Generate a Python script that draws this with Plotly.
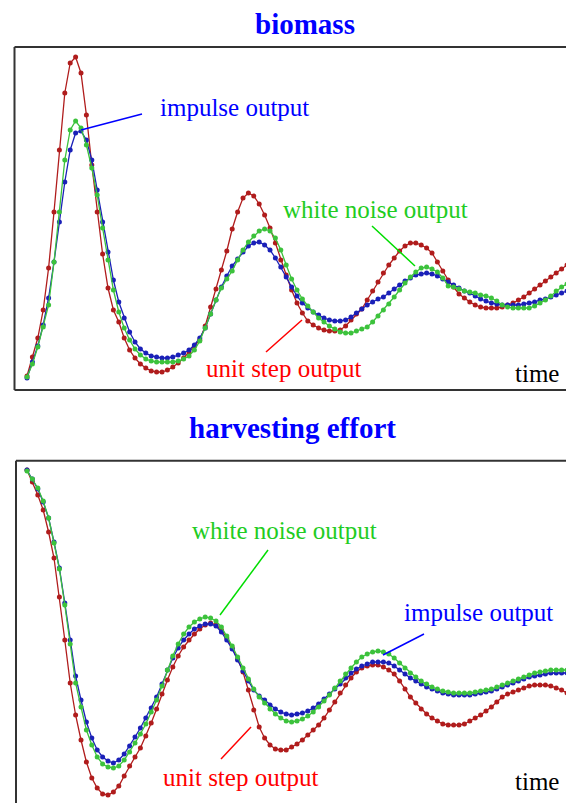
import plotly.graph_objects as go

# time index (equally spaced samples)
t = list(range(101))

# ---- biomass panel (arbitrary units) ----
biomass_step = [14, 33, 52, 80, 122, 178, 240, 297, 327, 333,
                317, 275, 225, 178, 136, 102, 80, 68, 52, 40,
                32, 26, 22, 19, 18, 18, 20, 23, 27, 32,
                38, 44, 50, 64, 83, 101, 120, 139, 161, 178,
                192, 197, 194, 186, 175, 162, 147, 130, 115, 100,
                87, 77, 69, 65, 62, 60, 59, 59, 60, 64,
                70, 76, 81, 90, 99, 108, 117, 125, 132, 139,
                144, 147, 147, 145, 142, 137, 128, 119, 110, 103,
                96, 92, 88, 85, 83, 82, 82, 82, 83, 85,
                87, 90, 93, 97, 101, 105, 109, 113, 117, 121,
                125]
biomass_impulse = [12, 28, 44, 65, 92, 128, 168, 208, 240, 257,
                   259, 250, 230, 200, 168, 138, 110, 88, 72, 58,
                   48, 41, 37, 34, 33, 32, 32, 33, 35, 37,
                   40, 45, 52, 62, 76, 90, 103, 114, 124, 131,
                   138, 144, 147, 148, 145, 140, 132, 123, 113, 103,
                   94, 87, 82, 78, 75, 72, 70, 69, 69, 70,
                   73, 77, 81, 85, 88, 91, 93, 97, 101, 105,
                   109, 112, 115, 116, 117, 116, 114, 111, 108, 105,
                   102, 99, 97, 94, 91, 89, 87, 86, 85, 85,
                   85, 85, 86, 87, 88, 90, 91, 93, 95, 97,
                   99]
biomass_noise = [13, 26, 43, 63, 85, 128, 178, 230, 260, 269,
                 262, 245, 222, 195, 162, 130, 100, 78, 62, 50,
                 41, 35, 31, 29, 28, 28, 28, 28, 29, 31,
                 34, 40, 49, 62, 76, 90, 102, 111, 119, 130,
                 140, 148, 154, 159, 161, 159, 152, 140, 125, 111,
                 100, 91, 84, 78, 72, 68, 64, 61, 58, 57,
                 57, 59, 61, 63, 68, 74, 80, 86, 93, 100,
                 107, 113, 118, 122, 123, 121, 118, 112, 104, 103,
                 101, 99, 98, 97, 95, 94, 92, 89, 85, 83,
                 82, 82, 82, 82, 84, 87, 90, 94, 99, 103,
                 106]

# ---- harvesting effort panel ----
effort_step = [333, 321, 308, 293, 271, 245, 206, 163, 120, 88,
               63, 41, 25, 15, 9, 8, 11, 17, 27, 37,
               46, 55, 67, 80, 94, 109, 123, 136, 147, 156,
               163, 169, 174, 178, 180, 178, 173, 165, 155, 144,
               131, 113, 93, 76, 65, 58, 54, 53, 53, 56,
               59, 63, 68, 73, 78, 85, 93, 101, 110, 118,
               125, 131, 135, 137, 138, 138, 136, 133, 129, 122,
               114, 106, 100, 94, 89, 85, 82, 79, 78, 78,
               78, 79, 82, 85, 88, 92, 96, 101, 106, 109,
               111, 113, 115, 117, 118, 118, 118, 117, 115, 113,
               110]
effort_impulse = [333, 324, 314, 301, 285, 261, 235, 200, 163, 127,
                  103, 81, 65, 53, 46, 42, 40, 43, 49, 57,
                  66, 75, 85, 95, 106, 119, 133, 145, 155, 163,
                  169, 174, 177, 179, 179, 177, 171, 163, 154, 143,
                  132, 122, 113, 107, 103, 98, 94, 91, 89, 88,
                  89, 90, 92, 95, 99, 104, 109, 114, 119, 125,
                  130, 134, 137, 139, 141, 141, 141, 140, 137, 133,
                  129, 125, 122, 119, 116, 114, 112, 110, 109, 108,
                  108, 108, 108, 109, 110, 111, 112, 114, 116, 118,
                  120, 122, 124, 126, 127, 128, 129, 130, 130, 130,
                  130]
effort_noise = [332, 324, 315, 302, 285, 260, 234, 198, 159, 120,
                96, 73, 58, 46, 39, 36, 35, 37, 43, 51,
                60, 69, 79, 91, 103, 117, 133, 147, 159, 169,
                176, 181, 184, 186, 185, 182, 176, 167, 157, 146,
                135, 124, 114, 106, 100, 94, 89, 85, 82, 81,
                82, 84, 87, 91, 96, 102, 108, 115, 122, 129,
                135, 141, 146, 149, 151, 152, 151, 149, 145, 140,
                135, 130, 126, 122, 119, 116, 114, 112, 111, 110,
                110, 110, 110, 111, 112, 113, 114, 116, 118, 120,
                122, 124, 126, 128, 130, 131, 132, 133, 133, 133,
                133]

W, H = 566, 803
def X(px):
    return px / W
def Y(py):
    return (H - py) / H

RED = "#B01C1C"
BLUE = "#1A20B8"
GREEN = "#3CC23C"
FONT = "Liberation Serif"

fig = go.Figure()
for vals, col in [(biomass_step, RED), (biomass_impulse, BLUE), (biomass_noise, GREEN)]:
    fig.add_trace(go.Scatter(x=t, y=vals, mode="lines+markers",
                             line=dict(color=col, width=1.3),
                             marker=dict(size=5, color=col),
                             xaxis="x", yaxis="y", showlegend=False, hoverinfo="skip"))
for vals, col in [(effort_step, RED), (effort_impulse, BLUE), (effort_noise, GREEN)]:
    fig.add_trace(go.Scatter(x=t, y=vals, mode="lines+markers",
                             line=dict(color=col, width=1.3),
                             marker=dict(size=5, color=col),
                             xaxis="x2", yaxis="y2", showlegend=False, hoverinfo="skip"))

xr = [-5, W / 5.4 - 5]
fig.update_layout(
    width=W, height=H, margin=dict(l=0, r=0, t=0, b=0),
    paper_bgcolor="white", plot_bgcolor="white",
    xaxis=dict(domain=[0, 1], range=xr, visible=False),
    yaxis=dict(domain=[Y(390), Y(47)], range=[0, 343], visible=False),
    xaxis2=dict(domain=[0, 1], range=xr, visible=False, anchor="y2"),
    yaxis2=dict(domain=[0, Y(460.7)], range=[0, 342.3], visible=False, anchor="x2"),
)

BOX = "#333333"
shapes = [
    # biomass frame (left, top, bottom)
    dict(type="line", xref="paper", yref="paper", x0=X(14.5), x1=X(14.5), y0=Y(390), y1=Y(47)),
    dict(type="line", xref="paper", yref="paper", x0=X(14.5), x1=1.02, y0=Y(47), y1=Y(47)),
    dict(type="line", xref="paper", yref="paper", x0=X(14.5), x1=1.02, y0=Y(390), y1=Y(390)),
    # effort frame (left, top)
    dict(type="line", xref="paper", yref="paper", x0=X(16), x1=X(16), y0=-0.02, y1=Y(460.7)),
    dict(type="line", xref="paper", yref="paper", x0=X(16), x1=1.02, y0=Y(460.7), y1=Y(460.7)),
]
for s in shapes:
    s["line"] = dict(color=BOX, width=2)

leaders = [
    ((81, 130), (142, 114), "#0000FF"),
    ((372, 226), (415, 266), "#00DD00"),
    ((302, 320), (266, 352), "#FF0000"),
    ((268, 550), (220, 615), "#00DD00"),
    ((424, 634), (383, 655), "#0000FF"),
    ((251, 727), (221, 759), "#FF0000"),
]
for (a, b, col) in leaders:
    shapes.append(dict(type="line", xref="paper", yref="paper",
                       x0=X(a[0]), y0=Y(a[1]), x1=X(b[0]), y1=Y(b[1]),
                       line=dict(color=col, width=1.5)))
fig.update_layout(shapes=shapes)

labels = [
    ("impulse output", 158, 108, "#0000FF"),
    ("white noise output", 281, 209, "#22CC22"),
    ("unit step output", 204, 369, "#FF0000"),
    ("time", 513, 373, "#000000"),
    ("white noise output", 190, 530, "#22CC22"),
    ("impulse output", 402, 612, "#0000FF"),
    ("unit step output", 161, 777, "#FF0000"),
    ("time", 513, 781, "#000000"),
]
ann = []
for txt, x, y, col in labels:
    ann.append(dict(text=txt, xref="paper", yref="paper", x=X(x), y=Y(y),
                    xanchor="left", yanchor="middle", showarrow=False,
                    font=dict(family=FONT, size=25, color=col)))
for txt, x, y in [("biomass", 305, 24), ("harvesting effort", 292, 428)]:
    ann.append(dict(text="<b>%s</b>" % txt, xref="paper", yref="paper", x=X(x), y=Y(y),
                    xanchor="center", yanchor="middle", showarrow=False,
                    font=dict(family=FONT, size=29, color="#0000FF")))
fig.update_layout(annotations=ann)

fig.write_html("out.html")
